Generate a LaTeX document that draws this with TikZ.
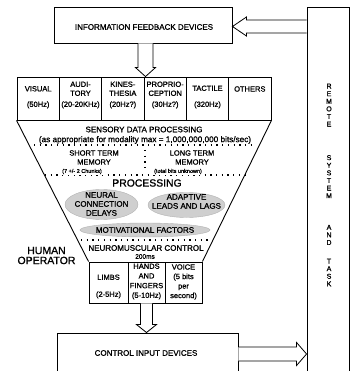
\documentclass[tikz,border=0pt]{standalone}
\usepackage{fontspec}
\setmainfont{Liberation Sans}[FakeBold=1.2]
\usetikzlibrary{calc,shapes.geometric}
\begin{document}
\begin{tikzpicture}[x=1pt,y=-1pt,
  box/.style={draw,line width=0.9pt,inner sep=0pt,rectangle},
  txt/.style={inner sep=0pt,align=center,font=\fontsize{7.5}{9}\selectfont},
  mid/.style={inner sep=0pt,align=center,font=\fontsize{8}{9}\selectfont},
  tiny/.style={inner sep=0.8pt,fill=white,font=\fontsize{5.5}{6}\selectfont},
  hollow/.style={draw,fill=white,line width=0.8pt,line join=miter},
  dots/.style={line width=1.3pt,dash pattern=on 1.3pt off 4.4pt},
  blob/.style={ellipse,fill=gray!38,draw=gray!60,line width=0.4pt,inner sep=0pt}
]
\useasboundingbox (0,0) rectangle (358,371);

% feedback devices box
\node[box,minimum width=178pt,minimum height=36pt] (fb) at (143,25) {};
\node[mid] (fbt) at (144,27) {INFORMATION FEEDBACK DEVICES};

% remote system box
\node[box,minimum width=42pt,minimum height=365pt] (rem) at (328,189.5) {};
\node[inner sep=0pt,align=center,font=\fontsize{7}{7.6}\selectfont] (remt) at (329,185)
  {R\\E\\M\\O\\T\\E\\[26pt]S\\Y\\S\\T\\E\\M\\[24pt]A\\N\\D\\[11pt]T\\A\\S\\K};

% sensor row
\node[box,minimum width=42.33pt,minimum height=43pt] (s1) at (38.17,98.5) {};
\node[box,minimum width=42.33pt,minimum height=43pt] (s2) at (80.5,98.5) {};
\node[box,minimum width=42.33pt,minimum height=43pt] (s3) at (122.83,98.5) {};
\node[box,minimum width=42.33pt,minimum height=43pt] (s4) at (165.17,98.5) {};
\node[box,minimum width=42.33pt,minimum height=43pt] (s5) at (207.5,98.5) {};
\node[box,minimum width=42.33pt,minimum height=43pt] (s6) at (249.83,98.5) {};
\node[txt] (t1) at (38.17,97.3) {VISUAL\\[6.5pt](50Hz)};
\node[txt] (t2) at (80.5,95) {AUDI-\\TORY\\[2pt](20-20KHz)};
\node[txt] (t3) at (122.83,95) {KINES-\\THESIA\\[2pt](20Hz?)};
\node[txt] (t4) at (165.17,95) {PROPRIO-\\CEPTION\\[2pt](30Hz?)};
\node[txt] (t5) at (207.5,97) {TACTILE\\[7pt](320Hz)};
\node[txt] (t6) at (249.83,89) {OTHERS};

% output boxes
\node[box,minimum width=39pt,minimum height=41pt] (o1) at (108.5,282.5) {};
\node[box,minimum width=37pt,minimum height=41pt] (o2) at (146.5,282.5) {};
\node[box,minimum width=37pt,minimum height=41pt] (o3) at (183.5,282.5) {};
\node[txt] (u1) at (108.5,286.5) {LIMBS\\[8pt](2-5Hz)};
\node[txt,font=\fontsize{7.5}{9.7}\selectfont] (u2) at (146.5,281.5) {HANDS\\AND\\FINGERS\\(5-10Hz)};
\node[txt,font=\fontsize{7.5}{9.5}\selectfont] (u3) at (183.5,282) {VOICE\\(5 bits\\per\\second)};

% funnel
\draw[line width=0.9pt] (s1.south west) -- (o1.north west);
\draw[line width=0.9pt] (s6.south east) -- (o3.north east);

\node[mid] (sdp) at (144,129.5) {SENSORY DATA PROCESSING};
\node[inner sep=0pt,font=\fontsize{8.2}{9}\selectfont] (appr) at (145,140) {(as appropriate for modality max = 1,000,000,000 bits/sec)};
\draw[dots] (34,145) -- (256,145);

\node[txt] (stm) at (94,157.5) {SHORT TERM\\MEMORY};
\node[txt] (ltm) at (192,157.5) {LONG TERM\\MEMORY};
\draw[dots] (145,150) -- (145,172);
\draw[dots] (45,175) -- (247,175);
\node[tiny] (stmc) at (82,171.5) {(7 +/- 2 Chunks)};
\node[tiny] (ltmc) at (178,171.5) {(total bits unknown)};

\node[inner sep=0pt,font=\fontsize{10.4}{12}\selectfont] (proc) at (147,183) {PROCESSING};

\node[blob,minimum width=73pt,minimum height=30pt] (ncd) at (101.5,204.5) {};
\node[mid] (ncdt) at (101.5,204) {NEURAL\\CONNECTION\\DELAYS};
\node[blob,minimum width=77pt,minimum height=25pt] (all) at (186.5,205) {};
\node[mid] (allt) at (186.5,201.5) {ADAPTIVE\\LEADS AND LAGS};
\node[blob,minimum width=130pt,minimum height=14pt] (mot) at (145,230) {};
\node[mid] (mott) at (145,230) {MOTIVATIONAL FACTORS};

\draw[dots] (81,240) -- (212,240);
\node[mid] (nmc) at (146,248) {NEUROMUSCULAR CONTROL};
\node[inner sep=0pt,font=\fontsize{6.5}{7}\selectfont] (ms) at (145,256.5) {200ms};

\node[inner sep=0pt,align=center,font=\fontsize{10.5}{10}\selectfont] (ho) at (46.5,255.5) {HUMAN\\OPERATOR};

% control input box
\node[box,minimum width=181pt,minimum height=39pt] (ctl) at (147.5,352.5) {};
\node[mid] (ctlt) at (146,353) {CONTROL INPUT DEVICES};

% hollow arrows
\coordinate (fa0) at ($(rem.west |- fb.east)+(0,1.5)$);
\coordinate (fa1) at ($(fb.east)+(0,1.5)$);
\draw[hollow] ($(fa0)+(0,-6.5)$) -- ($(fa1)+(14,-6.5)$) -- ($(fa1)+(14,-9.5)$) -- (fa1)
  -- ($(fa1)+(14,9.5)$) -- ($(fa1)+(14,6.5)$) -- ($(fa0)+(0,6.5)$);

\coordinate (da0) at ($(fb.south)+(2.5,0)$);
\coordinate (da1) at (da0 |- s4.north);
\draw[hollow] ($(da0)+(-7.5,0)$) -- ($(da1)+(-7.5,-9)$) -- ($(da1)+(-10,-9)$) -- (da1)
  -- ($(da1)+(10,-9)$) -- ($(da1)+(7.5,-9)$) -- ($(da0)+(7.5,0)$);

\coordinate (db0) at (o2.south);
\coordinate (db1) at (o2.south |- ctl.north);
\draw[hollow] ($(db0)+(-6,0)$) -- ($(db1)+(-6,-8)$) -- ($(db1)+(-10,-8)$) -- (db1)
  -- ($(db1)+(10,-8)$) -- ($(db1)+(6,-8)$) -- ($(db0)+(6,0)$);

\coordinate (ra0) at ($(ctl.east)+(0,1.5)$);
\coordinate (ra1) at (rem.west |- ra0);
\draw[hollow] ($(ra0)+(0,-7)$) -- ($(ra1)+(-10,-7)$) -- ($(ra1)+(-10,-11.5)$) -- (ra1)
  -- ($(ra1)+(-10,11.5)$) -- ($(ra1)+(-10,7)$) -- ($(ra0)+(0,7)$);
\end{tikzpicture}
\end{document}
